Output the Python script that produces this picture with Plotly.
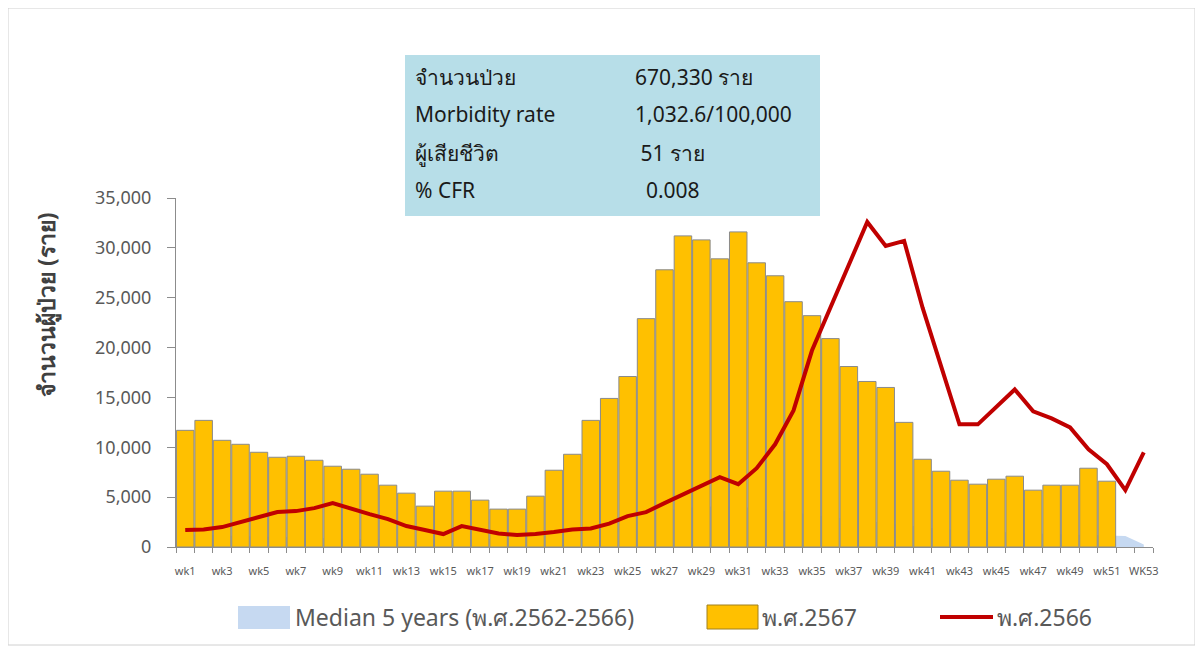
import plotly.graph_objects as go

weeks = [f"wk{i}" for i in range(1, 53)] + ["WK53"]
tick_text = [w if (i % 2 == 0) else "" for i, w in enumerate(weeks)]

cases_2567 = [11700, 12700, 10700, 10300, 9500, 9000, 9100, 8700, 8100, 7800,
              7300, 6200, 5400, 4100, 5600, 5600, 4700, 3800, 3800, 5100,
              7700, 9300, 12700, 14900, 17100, 22900, 27800, 31200, 30800, 28900,
              31600, 28500, 27200, 24600, 23200, 20900, 18100, 16600, 16000, 12500,
              8800, 7600, 6700, 6300, 6800, 7100, 5700, 6200, 6200, 7900, 6600]

cases_2566 = [1700, 1750, 2000, 2500, 2900, 3500, 3600, 3900, 4400, 3800,
              3300, 2800, 2100, 1700, 1300, 2100, 1700, 1350, 1200, 1300,
              1500, 1750, 1850, 2350, 3100, 3500, 4400, 5300, 6200, 7000,
              6300, 7900, 10300, 13700, 19700, 24000, 28200, 32600, 30200, 30700,
              24000, 18300, 12300, 12300, 14000, 15800, 13600, 12900, 12000, 9800,
              8300, 5700, 9500]

median_5y = [1200, 1250, 1150, 1100, 1000, 950, 900, 850, 800, 780,
             750, 700, 650, 620, 650, 700, 750, 800, 900, 1100,
             1400, 1700, 2100, 2500, 2900, 3300, 3600, 3900, 4000, 4100,
             4000, 3900, 3700, 3500, 3200, 3000, 2800, 2600, 2400, 2200,
             2000, 1800, 1700, 1600, 1500, 1400, 1350, 1300, 1250, 1200,
             1150, 1100, 250]

info_labels = ["จำนวนป่วย", "Morbidity rate", "ผู้เสียชีวิต", "% CFR"]
info_values = ["670,330 ราย", "1,032.6/100,000", " 51 ราย", "  0.008"]

legend_names = ["Median 5 years (พ.ศ.2562-2566)", "พ.ศ.2567", "พ.ศ.2566"]

# page offset of the plotly div (default body margin)
OFF = 8
W, H = 1203 - OFF, 651 - OFF
# plot area in page pixels
PL, PR, PT, PB = 176, 1153, 198, 547
L, R, T, B = PL - OFF, PR - OFF, PT - OFF, PB - OFF


def px(x):
    return (x - PL) / (PR - PL)


def py(y):
    return (PB - y) / (PB - PT)


FONT = "Noto Sans, Tahoma, sans-serif"
GREY = "#595959"

fig = go.Figure()
# bottom layer: median area
fig.add_trace(go.Scatter(x=weeks, y=median_5y, mode="lines", fill="tozeroy",
                         fillcolor="#C6D9F1", line=dict(width=0, color="#C6D9F1"),
                         name=legend_names[0], showlegend=False,
                         xaxis="x", yaxis="y"))
# overlay: bars and line
fig.add_trace(go.Bar(x=weeks[:len(cases_2567)], y=cases_2567, name=legend_names[1],
                     marker=dict(color="#FFC000", line=dict(color="#8a8a8a", width=1)),
                     showlegend=False, xaxis="x2", yaxis="y2"))
fig.add_trace(go.Scatter(x=weeks, y=cases_2566, mode="lines", name=legend_names[2],
                         line=dict(color="#C00000", width=4), showlegend=False,
                         xaxis="x2", yaxis="y2"))

shapes = []
annotations = []

# outer frame
shapes.append(dict(type="rect", xref="paper", yref="paper",
                   x0=px(8), x1=px(1195), y0=py(645), y1=py(8),
                   line=dict(color="#d0d0d0", width=1), fillcolor="rgba(0,0,0,0)", layer="below"))

# info box
shapes.append(dict(type="rect", xref="paper", yref="paper",
                   x0=px(405), x1=px(820), y0=py(216), y1=py(55),
                   line=dict(width=0), fillcolor="#B7DEE8", layer="above"))
rows_y = [77, 114, 153, 190]
for lab, val, yy in zip(info_labels, info_values, rows_y):
    annotations.append(dict(xref="paper", yref="paper", x=px(413), y=py(yy),
                            xanchor="left", yanchor="middle", showarrow=False,
                            text=lab, font=dict(family=FONT, size=21, color="#1a1a1a")))
    annotations.append(dict(xref="paper", yref="paper", x=px(633), y=py(yy),
                            xanchor="left", yanchor="middle", showarrow=False,
                            text=val, font=dict(family=FONT, size=21, color="#1a1a1a")))

# y title
annotations.append(dict(xref="paper", yref="paper", x=px(46), y=py(305),
                        xanchor="center", yanchor="middle", showarrow=False, textangle=-90,
                        text="<b>จำนวนผู้ป่วย (ราย)</b>",
                        font=dict(family=FONT, size=23, color="#404040")))

# custom legend
legend_y = 617
shapes.append(dict(type="rect", xref="paper", yref="paper",
                   x0=px(238), x1=px(290), y0=py(629), y1=py(606),
                   line=dict(width=0), fillcolor="#C6D9F1"))
shapes.append(dict(type="rect", xref="paper", yref="paper",
                   x0=px(707), x1=px(758), y0=py(629), y1=py(605),
                   line=dict(color="#a08020", width=1), fillcolor="#FFC000"))
shapes.append(dict(type="line", xref="paper", yref="paper",
                   x0=px(940), x1=px(993), y0=py(legend_y), y1=py(legend_y),
                   line=dict(color="#C00000", width=4)))
for name, xx in zip(legend_names, [293, 760, 995]):
    annotations.append(dict(xref="paper", yref="paper", x=px(xx), y=py(legend_y),
                            xanchor="left", yanchor="middle", showarrow=False,
                            text=name, font=dict(family=FONT, size=23, color=GREY)))

fig.update_layout(
    width=W, height=H,
    margin=dict(l=L, r=W - R, t=T, b=H - B, autoexpand=False),
    paper_bgcolor="white", plot_bgcolor="white",
    bargap=0.05,
    shapes=shapes, annotations=annotations,
    showlegend=False,
    font=dict(family=FONT),
    xaxis=dict(type="category", categoryorder="array", categoryarray=weeks,
               tickmode="array", tickvals=weeks, ticktext=tick_text,
               tickson="boundaries", ticks="outside", ticklen=5, tickcolor="#8c8c8c",
               ticklabelstandoff=14,
               showline=True, linecolor="#8c8c8c", linewidth=1,
               tickfont=dict(family=FONT, size=11, color=GREY), tickangle=0,
               showgrid=False, range=[-0.5, 52.5]),
    yaxis=dict(range=[0, 35000], tickvals=list(range(0, 35001, 5000)),
               tickformat=",d", ticks="outside", ticklen=8, tickcolor="#8c8c8c",
               ticklabelstandoff=12,
               showline=True, linecolor="#8c8c8c", linewidth=1,
               tickfont=dict(family=FONT, size=18, color=GREY),
               showgrid=False, zeroline=False),
    xaxis2=dict(type="category", categoryorder="array", categoryarray=weeks,
                overlaying="x", visible=False, range=[-0.5, 52.5]),
    yaxis2=dict(overlaying="y", visible=False, range=[0, 35000]),
)

fig.write_html("out.html")
